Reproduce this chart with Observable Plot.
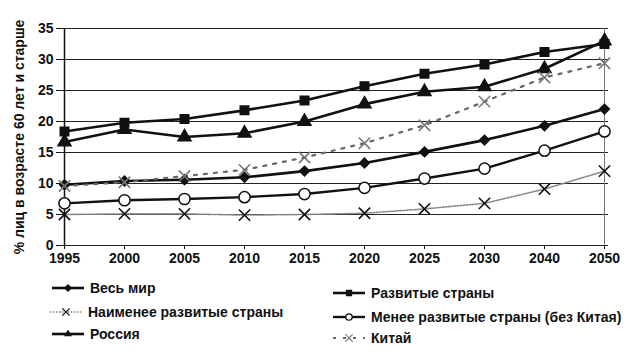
<!DOCTYPE html>
<html>
<head>
<meta charset="utf-8">
<script src="https://cdn.jsdelivr.net/npm/d3@7"></script>
<script src="https://cdn.jsdelivr.net/npm/@observablehq/plot@0.6"></script>
<style>
  html, body { margin: 0; padding: 0; background: #fff; }
  #wrap { position: relative; width: 635px; height: 360px; font-family: "Liberation Sans", Arial, sans-serif; }
  #legend { position: absolute; left: 0; top: 0; width: 635px; height: 360px; pointer-events: none; }
  .item { position: absolute; display: flex; align-items: center; font-weight: bold; font-size: 14px; color: #111; white-space: nowrap; }
  .item svg { margin-right: 6px; }
</style>
</head>
<body>
<div id="wrap"><div id="chart"></div><div id="legend"></div></div>
<script>
// ---- data ----
const years = ["1995","2000","2005","2010","2015","2020","2025","2030","2040","2050"];
const yTicks = [0, 5, 10, 15, 20, 25, 30, 35];
const seriesNames = [
  "Весь мир",
  "Развитые страны",
  "Наименее развитые страны",
  "Менее развитые страны (без Китая)",
  "Россия",
  "Китай"
];
const world      = [9.8, 10.4, 10.6, 11.0, 12.0, 13.3, 15.1, 17.0, 19.3, 22.0];
const developed  = [18.4, 19.8, 20.4, 21.8, 23.4, 25.7, 27.7, 29.2, 31.2, 32.5];
const leastDev   = [5.0, 5.1, 5.1, 4.9, 5.0, 5.2, 5.9, 6.8, 9.1, 12.0];
const lessDevNoChina = [6.8, 7.3, 7.5, 7.8, 8.3, 9.3, 10.8, 12.4, 15.3, 18.4];
const russia     = [16.7, 18.7, 17.5, 18.1, 20.0, 22.8, 24.8, 25.6, 28.5, 33.0];
const china      = [9.6, 10.2, 11.2, 12.2, 14.2, 16.5, 19.4, 23.2, 27.1, 29.4];
const yLabel = "% лиц в возрасте 60 лет и старше";

// ---- styles (kept separate from data) ----
const styles = [
  {values: world,          stroke: "#111", width: 2.6, dash: null,      symbol: "diamond2", fill: "#111", dotStroke: "#111", r: 4.4, lr: 2.8},
  {values: developed,      stroke: "#111", width: 2.6, dash: null,      symbol: "square",   fill: "#111", dotStroke: "#111", r: 4.8, lr: 2.8},
  {values: leastDev,       stroke: "#888", width: 1.6, dash: "1.5,1.5", symbol: "times",    fill: "none", dotStroke: "#111", r: 5.2, lr: 3.4},
  {values: lessDevNoChina, stroke: "#111", width: 2.4, dash: null,      symbol: "circle",   fill: "#fff", dotStroke: "#111", r: 5.6, lr: 3.2},
  {values: russia,         stroke: "#111", width: 2.6, dash: null,      symbol: "triangle", fill: "#111", dotStroke: "#111", r: 4.8, lr: 2.1},
  {values: china,          stroke: "#666", width: 2.2, dash: "3,7",     symbol: "times",    fill: "none", dotStroke: "#777", r: 5.2, lr: 3.4}
];

const marks = [
  Plot.ruleY(yTicks, {stroke: "#222", strokeWidth: 1}),
  Plot.ruleX([years[years.length - 1]], {y1: yTicks[0], y2: yTicks[yTicks.length - 1], stroke: "#777", strokeWidth: 1}),
  Plot.ruleX([years[0]], {y1: yTicks[0], y2: yTicks[yTicks.length - 1], stroke: "#111", strokeWidth: 1.5})
];
styles.forEach((s) => {
  const rows = years.map((year, i) => ({year, value: s.values[i]}));
  marks.push(Plot.line(rows, {x: "year", y: "value", stroke: s.stroke, strokeWidth: s.width, strokeDasharray: s.dash || undefined}));
});
styles.forEach((s) => {
  const rows = years.map((year, i) => ({year, value: s.values[i]}));
  marks.push(Plot.dot(rows, {x: "year", y: "value", symbol: s.symbol, r: s.r, fill: s.fill, stroke: s.dotStroke, strokeWidth: s.symbol === "times" ? 1.6 : 1.5}));
});
marks.push(
  Plot.axisX({tickSize: 4, tickPadding: 4, label: null}),
  Plot.axisY({ticks: yTicks, tickSize: 4, tickPadding: 3, label: yLabel, labelAnchor: "center", labelArrow: "none", labelOffset: 46})
);

const chart = Plot.plot({
  width: 635,
  height: 273,
  marginLeft: 60,
  marginRight: 27,
  marginTop: 28,
  marginBottom: 28,
  x: {type: "point", domain: years, padding: 0},
  y: {domain: [0, 35]},
  style: {fontFamily: "'Liberation Sans', Arial, sans-serif", fontSize: "14px", fontWeight: "bold", color: "#111", background: "transparent"},
  marks
});
document.getElementById("chart").appendChild(chart);

// ---- legend (HTML below the SVG) ----
const legendPos = [
  {x: 52, y: 288}, {x: 333, y: 293},
  {x: 50, y: 312}, {x: 333, y: 317},
  {x: 52, y: 334}, {x: 333, y: 338}
];
const legend = document.getElementById("legend");
const symMap = {diamond2: d3.symbolDiamond2, square: d3.symbolSquare, times: d3.symbolTimes, circle: d3.symbolCircle, triangle: d3.symbolTriangle};
seriesNames.forEach((name, i) => {
  const s = styles[i];
  const p = legendPos[i];
  const div = document.createElement("div");
  div.className = "item";
  div.style.left = p.x + "px";
  div.style.top = (p.y - 9) + "px";
  div.style.height = "18px";
  const svg = d3.create("svg").attr("width", 32).attr("height", 14);
  svg.append("line").attr("x1", 0).attr("x2", 32).attr("y1", 7).attr("y2", 7)
    .attr("stroke", s.stroke).attr("stroke-width", s.width).attr("stroke-dasharray", s.dash);
  svg.append("path").attr("transform", "translate(16,7)")
    .attr("d", d3.symbol(symMap[s.symbol], Math.PI * s.lr * s.lr)())
    .attr("fill", s.fill).attr("stroke", s.dotStroke).attr("stroke-width", 1.3);
  div.appendChild(svg.node());
  const span = document.createElement("span");
  span.textContent = name;
  div.appendChild(span);
  legend.appendChild(div);
});
</script>
</body>
</html>
